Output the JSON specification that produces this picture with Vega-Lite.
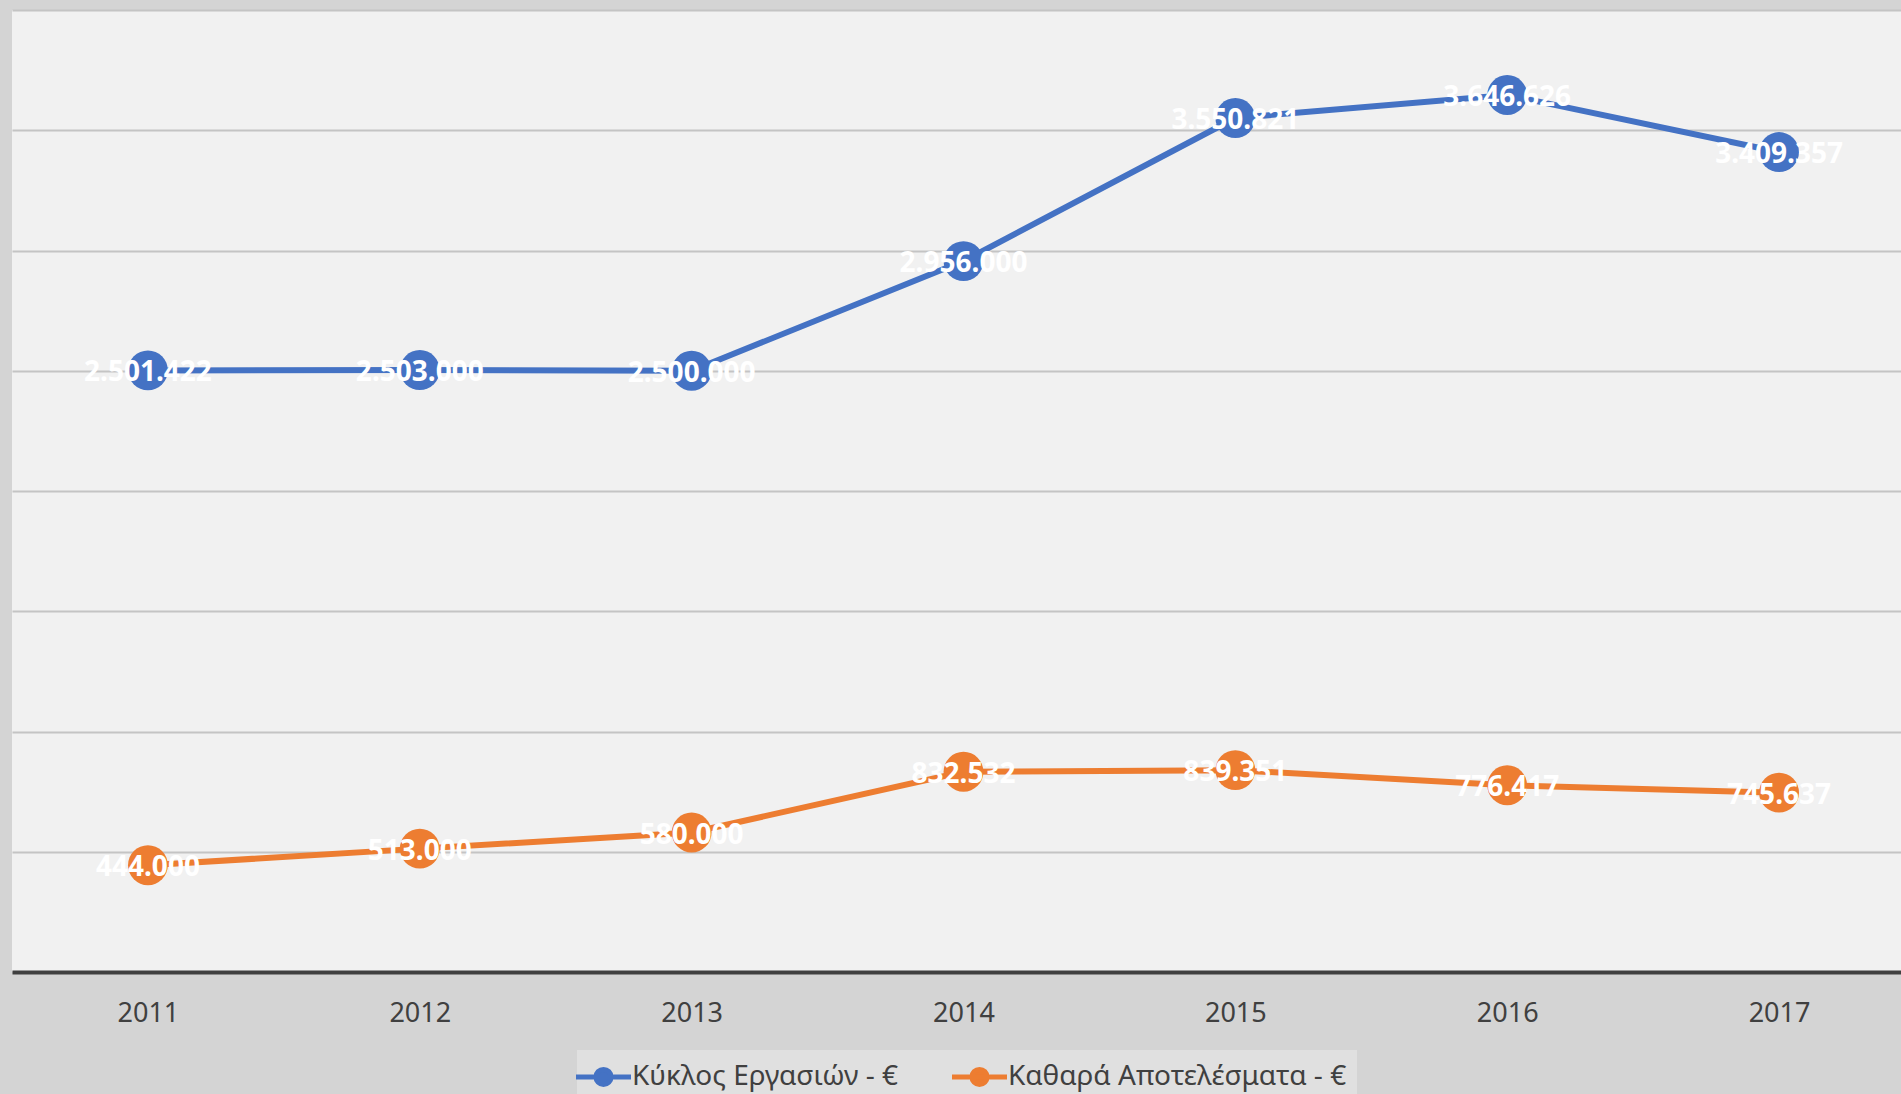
{
  "$schema": "https://vega.github.io/schema/vega-lite/v6.json",
  "autosize": {"type": "none"},
  "padding": {"left": 12, "top": 10, "right": -14, "bottom": 122},
  "width": 1903,
  "height": 962,
  "background": "#d4d4d4",
  "config": {
    "view": {"fill": "#f1f1f1", "stroke": null},
    "locale": {"number": {"decimal": ",", "thousands": ".", "grouping": [3], "currency": ["", " €"]}},
    "font": "Noto Sans"
  },
  "data": {
    "values": [
      {"year": "2011", "series": "Κύκλος Εργασιών - €", "value": 2501422},
      {"year": "2012", "series": "Κύκλος Εργασιών - €", "value": 2503000},
      {"year": "2013", "series": "Κύκλος Εργασιών - €", "value": 2500000},
      {"year": "2014", "series": "Κύκλος Εργασιών - €", "value": 2956000},
      {"year": "2015", "series": "Κύκλος Εργασιών - €", "value": 3550821},
      {"year": "2016", "series": "Κύκλος Εργασιών - €", "value": 3646626},
      {"year": "2017", "series": "Κύκλος Εργασιών - €", "value": 3409357},
      {"year": "2011", "series": "Καθαρά Αποτελέσματα - €", "value": 444000},
      {"year": "2012", "series": "Καθαρά Αποτελέσματα - €", "value": 513000},
      {"year": "2013", "series": "Καθαρά Αποτελέσματα - €", "value": 580000},
      {"year": "2014", "series": "Καθαρά Αποτελέσματα - €", "value": 832532},
      {"year": "2015", "series": "Καθαρά Αποτελέσματα - €", "value": 839351},
      {"year": "2016", "series": "Καθαρά Αποτελέσματα - €", "value": 776417},
      {"year": "2017", "series": "Καθαρά Αποτελέσματα - €", "value": 745637}
    ]
  },
  "encoding": {
    "x": {
      "field": "year", "type": "ordinal",
      "scale": {"type": "point", "padding": 0.5},
      "axis": {
        "title": null, "labelAngle": 0, "labelFontSize": 27, "labelColor": "#404040",
        "labelFont": "Noto Sans", "labelPadding": 28,
        "domainColor": "#404040", "domainWidth": 4, "ticks": false, "grid": false
      }
    },
    "y": {
      "field": "value", "type": "quantitative",
      "scale": {"domain": [0, 4000000], "nice": false},
      "axis": {
        "title": null, "labels": false, "ticks": false, "domain": false,
        "values": [0, 500000, 1000000, 1500000, 2000000, 2500000, 3000000, 3500000, 4000000],
        "gridColor": "#c4c4c4", "gridWidth": 2
      }
    },
    "color": {
      "field": "series", "type": "nominal",
      "scale": {"domain": ["Κύκλος Εργασιών - €", "Καθαρά Αποτελέσματα - €"], "range": ["#4472C4", "#ED7D31"]},
      "legend": {
        "title": null, "orient": "none", "direction": "horizontal",
        "legendX": 565, "legendY": 1040,
        "fillColor": "#e0e0e0", "padding": 10,
        "labelFontSize": 28, "labelColor": "#404040", "labelFont": "Noto Sans", "labelLimit": 600,
        "labelOffset": 12, "columnPadding": 43,
        "symbolType": "M-2,0L2,0M-0.55,0A0.55,0.55 0 1,1 0.55,0A0.55,0.55 0 1,1 -0.55,0",
        "symbolSize": 756, "symbolStrokeWidth": 5,
        "encode": {"symbols": {"update": {
          "fill": {"scale": "color", "field": "value"},
          "stroke": {"scale": "color", "field": "value"},
          "opacity": {"value": 1}
        }}}
      }
    }
  },
  "layer": [
    {"mark": {"type": "line", "strokeWidth": 6}},
    {"mark": {"type": "point", "filled": true, "size": 1590, "opacity": 1, "shape": "circle"}},
    {
      "mark": {"type": "text", "color": "white", "fontSize": 28, "fontWeight": "bold", "font": "Noto Sans", "align": "center", "baseline": "middle", "dy": 3},
      "encoding": {
        "text": {"field": "value", "type": "quantitative", "format": ",d"},
        "color": {"value": "white"}
      }
    }
  ]
}
